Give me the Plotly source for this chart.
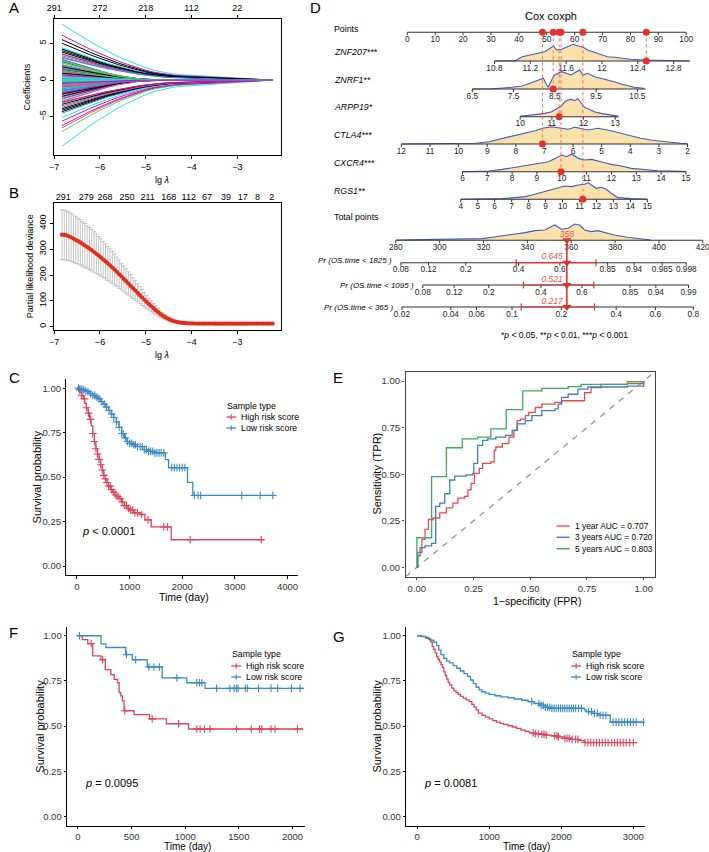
import numpy as np
import plotly.graph_objects as go

W, H = 709, 852
FONT = "Liberation Sans, Arial, Helvetica, sans-serif"

# ===================== DATA =====================
# ---- Panel A : LASSO coefficient paths ----
A_LOG_LAMBDA = [-6.83, -6.6, -6.4, -6.2, -6.0, -5.8, -5.6, -5.4, -5.2, -5.0, -4.8,
                -4.6, -4.4, -4.2, -4.0, -3.7, -3.4, -3.1, -2.8, -2.5, -2.23]
A_SHRINK_WIDE = [1.0, 0.88, 0.78, 0.68, 0.59, 0.5, 0.42, 0.35, 0.28, 0.22, 0.17,
                 0.135, 0.11, 0.095, 0.085, 0.07, 0.055, 0.04, 0.025, 0.01, 0.0]
A_SHRINK_NARROW = [1.0, 0.85, 0.7, 0.56, 0.43, 0.32, 0.22, 0.14, 0.08, 0.04, 0.015,
                   0.005, 0.0, 0.0, 0.0, 0.0, 0.0, 0.0, 0.0, 0.0, 0.0]
A_COEF_START = [5.5, -6.5, -7.0, 4.3, 7.6, 6.1, -4.3, 3.3, 2.0, -4.5, -9.0, -5.6,
                4.2, -3.1, 3.6, 1.9, -5.1, 2.8, -3.9, 1.5, -2.6, 3.0, 4.4, -1.8,
                2.5, -2.0, 1.1, -3.5, 2.4, -0.9, -4.1, 0.8, -1.4, 2.7, -2.8, 1.3,
                3.8, -1.1, 0.5, -2.3, 1.7, -0.4, -3.3, 2.1, -0.7, 0.9, -1.6, 3.5,
                1.4, -3.7, 0.3, -1.2, 1.0, -2.5, 4.0, -0.3, 2.3, -0.6, 0.6, -6.2,
                -1.9, 1.2, -0.2, 1.6, -1.0, 0.4, -2.2, 0.2, -0.5, 3.1, -1.3, 0.7,
                1.8, -0.8, 0.15, -1.5, 0.35, -3.0, -0.1, 0.85, -0.05, 0.1, -0.15, 0.55,
                5.0, -2.9, 2.6, -0.35, 0.05, -1.7, 0.95, -0.95, 1.35, -1.35, 0.45, -0.45]
A_TICKS = [-7, -6, -5, -4, -3]
A_TOP_LABELS = ["291", "272", "218", "112", "22"]
R_PALETTE = ["#000000", "#DF536B", "#61D04F", "#2297E6", "#28E2E5", "#CD0BBC"]

# ---- Panel B : cross-validation deviance ----
B_LOG_LAMBDA = list(np.round(np.linspace(-6.83, -2.23, 93), 3))
B_DEVIANCE = [356, 355, 353, 350, 346, 341, 336, 331, 326, 320, 314, 308, 302, 296, 289,
              282, 275, 268, 260, 253, 245, 237, 229, 221, 212, 203, 194, 185, 176, 167,
              158, 149, 140, 131, 122, 113, 104, 96, 87, 79, 71, 63, 56, 49, 43,
              37, 32, 28, 24, 21, 19, 17, 15.5, 14.5, 13.8, 13.2, 12.8,
              12.5, 12.3, 12.2, 12.1, 12.0, 12.0, 11.9, 11.9, 11.9, 11.8, 11.8, 11.8,
              11.8, 11.8, 11.8, 11.8, 11.8, 11.8, 11.8, 11.8, 11.8, 11.8, 11.8, 11.8,
              11.8, 11.9, 11.9, 11.9, 11.9, 11.9, 11.9, 12.0, 12.0, 12.0, 12.0, 12.0]
B_SE = [96, 96, 95, 94, 93, 92, 91, 89, 88, 86, 85, 83, 82, 80, 78, 76, 74, 72, 70, 68,
        66, 64, 62, 60, 57, 55, 52, 50, 48, 45, 43, 40, 38, 35, 33, 31, 28, 26, 23, 21,
        19, 17, 15, 13, 12, 10, 9, 8, 7, 6, 5, 5, 4, 4, 3, 3, 3,
        3, 2.5, 2.5, 2.5, 2.5, 2.5, 2, 2, 2, 2, 2, 2, 2, 2, 2, 2, 2, 2, 2, 2,
        2, 2, 2, 2, 2, 2, 2, 2, 2, 2, 2, 2, 2, 2, 2, 2]
B_TICKS = [-7, -6, -5, -4, -3]
B_TOP_POS = [-6.80, -6.30, -5.89, -5.41, -4.96, -4.50, -4.06, -3.66, -3.25, -2.88, -2.56, -2.25]
B_TOP_LABELS = ["291", "279", "268", "250", "211", "168", "112", "67", "39", "17", "8", "2"]

# ---- Panel D : nomogram (anchor = value_a, points_a, value_b, points_b) ----
POINTS_TICKS = [0, 10, 20, 30, 40, 50, 60, 70, 80, 90, 100]
POINTS_ANCHOR = (0, 0.0, 100, 100.0)

NOMO_LABELS = ["ZNF207***", "ZNRF1**", "ARPP19*", "CTLA4***", "CXCR4***", "RGS1**"]

ZNF207_TICKS = [10.8, 11.2, 11.6, 12.0, 12.4, 12.8]
ZNF207_TICKLABELS = ["10.8", "11.2", "11.6", "12", "12.4", "12.8"]
ZNF207_LINE = [10.8, 12.98]
ZNF207_ANCHOR = (10.8, 31.24, 12.8, 95.48)
ZNF207_VALUE = 12.495
ZNF207_DENS_V = [10.8, 11.03, 11.11, 11.2, 11.29, 11.36, 11.46, 11.49, 11.55, 11.62, 11.68, 11.73,
                 11.79, 11.84, 11.92, 11.99, 12.06, 12.14, 12.21, 12.32, 12.47, 12.69, 12.98]
ZNF207_DENS_H = [0, 0.3, 4.3, 6, 7.7, 9.3, 15, 11, 11.7, 14.3, 16.7, 15.3, 13.7, 11, 8.3, 6,
                 4.3, 3.7, 2.7, 1.7, 1, 0.3, 0]

ZNRF1_TICKS = [6.5, 7.5, 8.5, 9.5, 10.5]
ZNRF1_TICKLABELS = ["6.5", "7.5", "8.5", "9.5", "10.5"]
ZNRF1_LINE = [6.5, 10.7]
ZNRF1_ANCHOR = (6.5, 23.32, 10.5, 82.49)
ZNRF1_VALUE = 8.46
ZNRF1_DENS_V = [6.5, 6.98, 7.46, 7.70, 7.90, 8.10, 8.22, 8.30, 8.34, 8.42, 8.50, 8.66, 8.78, 8.90,
                8.98, 9.10, 9.18, 9.30, 9.46, 9.62, 9.78, 9.94, 10.10, 10.26, 10.42, 10.66]
ZNRF1_DENS_H = [0, 0.3, 1.7, 3, 5.7, 9, 10.7, 4, 1.7, 9, 14, 17.3, 15.7, 14, 16.3, 19, 14, 15.7,
                12.3, 10.7, 9, 7.3, 5, 3, 1.7, 0.7]

ARPP19_TICKS = [10, 11, 12, 13]
ARPP19_TICKLABELS = ["10", "11", "12", "13"]
ARPP19_LINE = [10, 13.1]
ARPP19_ANCHOR = (10, 40.46, 13, 74.54)
ARPP19_VALUE = 11.23
ARPP19_DENS_V = [10.0, 10.47, 10.78, 10.99, 11.15, 11.30, 11.41, 11.51, 11.62, 11.72, 11.82,
                 11.93, 12.03, 12.19, 12.34, 12.55, 12.87, 13.1]
ARPP19_DENS_H = [0.3, 1.7, 3.3, 5, 8.3, 10.7, 15, 16.7, 17.3, 16, 18, 13.3, 9.3, 7.3, 5, 3.3, 1.7, 0.3]

CTLA4_TICKS = [12, 11, 10, 9, 8, 7, 6, 5, 4, 3, 2]
CTLA4_TICKLABELS = ["12", "11", "10", "9", "8", "7", "6", "5", "4", "3", "2"]
CTLA4_LINE = [12, 2]
CTLA4_ANCHOR = (12, -2.13, 2, 100.45)
CTLA4_VALUE = 7.07
CTLA4_DENS_V = [12.0, 10.33, 9.40, 8.94, 8.60, 8.25, 7.90, 7.67, 7.33, 7.07, 6.75, 6.40, 6.17, 5.94,
                5.71, 5.48, 5.13, 4.91, 4.67, 4.33, 3.98, 3.64, 3.29, 2.83, 2.25, 2.0]
CTLA4_DENS_H = [0, 0.3, 0.7, 2.3, 4.7, 6.7, 9, 11.3, 13.3, 15.7, 17.3, 15.7, 14.7, 16.7, 15.3,
                14, 15.7, 14.7, 13.3, 10.7, 8, 5.7, 4, 2.3, 0.7, 0.2]

CXCR4_TICKS = [6, 7, 8, 9, 10, 11, 12, 13, 14, 15]
CXCR4_TICKLABELS = ["6", "7", "8", "9", "10", "11", "12", "13", "14", "15"]
CXCR4_LINE = [6, 15]
CXCR4_ANCHOR = (6, 19.77, 15, 99.88)
CXCR4_VALUE = 9.97
CXCR4_DENS_V = [6.0, 7.07, 7.60, 8.00, 8.27, 8.67, 9.07, 9.47, 9.73, 10.00, 10.20, 10.40, 10.67,
                10.93, 11.20, 11.47, 11.73, 12.00, 12.40, 12.80, 13.33, 13.87, 14.80, 15.0]
CXCR4_DENS_H = [0, 0.7, 2.3, 4.3, 5, 6.7, 8.3, 10, 13.3, 16.7, 15, 17.7, 13.3, 11.7, 12.3, 11, 9,
                7.3, 5.7, 3.3, 2.3, 1, 0.3, 0]

RGS1_TICKS = [4, 5, 6, 7, 8, 9, 10, 11, 12, 13, 14, 15]
RGS1_TICKLABELS = ["4", "5", "6", "7", "8", "9", "10", "11", "12", "13", "14", "15"]
RGS1_LINE = [4, 15]
RGS1_ANCHOR = (4, 19.17, 15, 86.04)
RGS1_VALUE = 11.2
RGS1_DENS_V = [4.0, 6.44, 7.22, 7.80, 8.19, 8.58, 8.97, 9.36, 9.75, 10.14, 10.53, 10.92, 11.31,
               11.51, 11.70, 11.99, 12.29, 12.58, 12.87, 13.26, 14.04, 14.82, 15.0]
RGS1_DENS_H = [0, 0.7, 1.7, 2.7, 4.3, 6, 7.7, 9.3, 11, 13.3, 12.7, 14.3, 15, 16.7, 14.3, 11, 12,
               10, 6, 1.7, 0.7, 0.3, 0]

TOTAL_TICKS = [280, 300, 320, 340, 360, 380, 400, 420]
TOTAL_TICKLABELS = ["280", "300", "320", "340", "360", "380", "400", "420"]
TOTAL_ANCHOR = (280, -4.12, 420, 105.92)
TOTAL_VALUE = 358
TOTAL_DENS_V = [280.3, 296.8, 311.9, 319.4, 323.9, 328.4, 334.4, 339.0, 343.5, 348.0, 351.0, 352.5,
                355.5, 358.6, 361.5, 363.8, 366.1, 369.1, 372.1, 375.1, 379.6, 385.6, 391.7, 396.2]
TOTAL_DENS_H = [0.3, 1, 1.3, 1.7, 3, 4.3, 6.3, 7.7, 9.7, 10.3, 13.7, 15.3, 11, 12, 16.3, 15.3,
                10.3, 8.7, 9.7, 7.7, 5.3, 3, 1.7, 0.3]

PR_LABELS = ["Pr (OS.time < 1825 )", "Pr (OS.time < 1095 )", "Pr (OS.time < 365 )"]
PR1825_TICKLABELS = ["0.08", "0.12", "0.2", "0.4", "0.6", "0.85", "0.94", "0.985", "0.998"]
PR1825_TICKPOS = [282.3, 294.9, 311.9, 336.0, 354.8, 376.6, 388.7, 401.5, 412.5]
PR1095_TICKLABELS = ["0.08", "0.12", "0.2", "0.4", "0.6", "0.85", "0.94", "0.99"]
PR1095_TICKPOS = [292.3, 306.6, 322.4, 346.2, 364.9, 386.8, 398.6, 413.5]
PR365_TICKLABELS = ["0.02", "0.04", "0.06", "0.1", "0.2", "0.4", "0.6", "0.8"]
PR365_TICKPOS = [282.8, 305.1, 316.8, 333.0, 355.5, 380.5, 398.4, 415.7]
PR_VALUES = ["0.645", "0.521", "0.217"]
PR_CI_LO = [334.9, 338.2, 337.2]
PR_CI_HI = [371.3, 370.3, 370.6]

# ---- Panel C : KM training set ----
C_HIGH_T = [0, 30, 60, 90, 120, 150, 180, 210, 240, 270, 300, 330, 360, 390, 420, 450, 480, 510,
            540, 570, 600, 640, 680, 720, 760, 800, 850, 900, 950, 1000, 1080, 1200, 1290, 1410,
            1790, 3550]
C_HIGH_S = [1.0, 0.99, 0.975, 0.96, 0.94, 0.915, 0.89, 0.86, 0.825, 0.79, 0.745, 0.70, 0.66, 0.63,
            0.60, 0.57, 0.54, 0.51, 0.49, 0.47, 0.45, 0.43, 0.415, 0.40, 0.39, 0.38, 0.36, 0.34,
            0.325, 0.315, 0.30, 0.29, 0.26, 0.22, 0.148, 0.148]
C_HIGH_CENS = [50, 90, 140, 180, 220, 260, 300, 330, 360, 390, 420, 450, 480, 510, 540, 570, 600,
               630, 660, 700, 740, 780, 820, 860, 900, 940, 980, 1020, 1060, 1100, 1150, 1230, 1350,
               1650, 1720, 2150, 3500]
C_LOW_T = [0, 50, 100, 150, 200, 250, 300, 350, 400, 450, 500, 550, 600, 650, 700, 750, 800, 850,
           900, 950, 1000, 1050, 1150, 1250, 1350, 1450, 1680, 1740, 2100, 2200, 3750]
C_LOW_S = [1.0, 0.995, 0.99, 0.985, 0.98, 0.97, 0.96, 0.95, 0.94, 0.925, 0.91, 0.895, 0.875, 0.855,
           0.835, 0.81, 0.78, 0.745, 0.72, 0.70, 0.69, 0.682, 0.672, 0.655, 0.645, 0.637, 0.598,
           0.553, 0.471, 0.397, 0.397]
C_LOW_CENS = [30, 60, 95, 130, 170, 210, 260, 300, 340, 380, 420, 470, 520, 560, 610, 660, 700, 750,
              800, 850, 880, 920, 960, 1000, 1040, 1080, 1110, 1150, 1200, 1240, 1280, 1320, 1360,
              1400, 1440, 1480, 1520, 1560, 1600, 1650, 1800, 1850, 1900, 1950, 2000, 2050, 2230,
              2300, 2350, 3130, 3480, 3720]
C_P_TEXT = "<i>p</i> < 0.0001"

# ---- Panel E : time-dependent ROC ----
ROC_1Y_FPR = [0, 0.004, 0.022, 0.036, 0.051, 0.072, 0.101, 0.13, 0.159, 0.181, 0.21, 0.225, 0.239,
              0.254, 0.275, 0.29, 0.326, 0.341, 0.348, 0.377, 0.406, 0.428, 0.442, 0.457, 0.478,
              0.493, 0.522, 0.551, 0.609, 0.638, 0.739, 0.768, 0.812, 0.928, 1.0]
ROC_1Y_TPR = [0, 0.08, 0.15, 0.204, 0.257, 0.265, 0.292, 0.319, 0.345, 0.372, 0.381, 0.416, 0.451,
              0.504, 0.531, 0.558, 0.566, 0.628, 0.646, 0.664, 0.699, 0.735, 0.788, 0.796, 0.814,
              0.832, 0.858, 0.876, 0.885, 0.894, 0.938, 0.965, 0.982, 0.986, 1.0]
ROC_3Y_FPR = [0, 0.004, 0.014, 0.036, 0.065, 0.083, 0.101, 0.123, 0.145, 0.167, 0.217, 0.246, 0.251,
              0.268, 0.29, 0.312, 0.348, 0.391, 0.42, 0.442, 0.478, 0.507, 0.551, 0.609, 0.623,
              0.638, 0.667, 0.71, 0.754, 0.928, 1.0]
ROC_3Y_TPR = [0, 0.062, 0.106, 0.115, 0.129, 0.327, 0.345, 0.395, 0.469, 0.49, 0.496, 0.504, 0.558,
              0.655, 0.681, 0.69, 0.699, 0.708, 0.735, 0.77, 0.788, 0.814, 0.841, 0.85, 0.876,
              0.912, 0.929, 0.956, 0.968, 0.973, 1.0]
ROC_5Y_FPR = [0, 0, 0.065, 0.13, 0.2, 0.268, 0.326, 0.394, 0.467, 0.551, 0.667, 0.725, 0.928, 1.0]
ROC_5Y_TPR = [0, 0.159, 0.487, 0.642, 0.69, 0.699, 0.743, 0.846, 0.947, 0.961, 0.97, 0.982, 0.996, 1.0]
ROC_NAMES = ["1 year AUC = 0.707", "3 years AUC = 0.720", "5 years AUC = 0.803"]

# ---- Panel F : KM validation 1 ----
F_HIGH_T = [0, 40, 92, 138, 215, 255, 307, 338, 369, 384, 400, 415, 430, 523, 668, 825, 1031, 2100]
F_HIGH_S = [1.0, 0.978, 0.956, 0.889, 0.867, 0.813, 0.785, 0.758, 0.74, 0.685, 0.667, 0.64, 0.585,
            0.564, 0.54, 0.513, 0.484, 0.484]
F_HIGH_CENS = [123, 231, 437, 692, 938, 1108, 1139, 1179, 1231, 1477, 1616, 1693, 1714, 1800, 1837, 2046]
F_LOW_T = [0, 215, 261, 446, 507, 646, 785, 1015, 1185, 2100]
F_LOW_S = [1.0, 0.955, 0.935, 0.895, 0.867, 0.827, 0.767, 0.74, 0.709, 0.709]
F_LOW_CENS = [15, 452, 538, 662, 708, 760, 923, 1108, 1133, 1154, 1293, 1416, 1456, 1477, 1493, 1560,
              1579, 1684, 1800, 1862, 1991, 2071]
F_P_TEXT = "<i>p</i> = 0.0095"

# ---- Panel G : KM validation 2 ----
G_HIGH_T = [0, 60, 120, 160, 190, 210, 230, 250, 270, 290, 310, 330, 350, 370, 390, 410, 430, 450,
            480, 510, 540, 570, 600, 640, 680, 720, 760, 790, 820, 850, 900, 950, 1000, 1050, 1100,
            1150, 1200, 1260, 1320, 1380, 1440, 1500, 1560, 1620, 1700, 1780, 1860, 1950, 2050,
            2150, 2240, 2320, 3045]
G_HIGH_S = [1.0, 0.997, 0.99, 0.98, 0.965, 0.94, 0.925, 0.905, 0.885, 0.87, 0.855, 0.84, 0.825,
            0.8, 0.78, 0.76, 0.742, 0.728, 0.71, 0.695, 0.685, 0.675, 0.665, 0.655, 0.645, 0.635,
            0.62, 0.605, 0.59, 0.572, 0.56, 0.55, 0.54, 0.53, 0.522, 0.515, 0.51, 0.502, 0.495,
            0.487, 0.478, 0.47, 0.463, 0.458, 0.455, 0.45, 0.446, 0.44, 0.432, 0.426, 0.42, 0.409,
            0.409]
G_HIGH_CENS = [1610, 1640, 1680, 1730, 1760, 1790, 1910, 1940, 1960, 2050, 2080, 2110, 2150, 2200,
               2230, 2330, 2370, 2410, 2450, 2490, 2530, 2570, 2610, 2650, 2700, 2740, 2780, 2820,
               2860, 2900, 2950, 3000]
G_LOW_T = [0, 60, 120, 180, 230, 270, 300, 330, 370, 410, 450, 500, 550, 600, 650, 700, 740, 780,
           820, 860, 900, 950, 1000, 1080, 1160, 1260, 1350, 1450, 1540, 1620, 1700, 1780, 1870,
           2320, 2350, 2430, 2510, 2680, 3146]
G_LOW_S = [1.0, 0.995, 0.985, 0.975, 0.965, 0.945, 0.92, 0.895, 0.875, 0.86, 0.85, 0.835, 0.82,
           0.805, 0.79, 0.775, 0.755, 0.735, 0.715, 0.7, 0.69, 0.683, 0.676, 0.668, 0.662, 0.657,
           0.65, 0.643, 0.635, 0.625, 0.615, 0.604, 0.598, 0.59, 0.58, 0.57, 0.56, 0.522, 0.522]
G_LOW_CENS = [1590, 1690, 1720, 1750, 1780, 1810, 1840, 1870, 1900, 1930, 1960, 1990, 2020, 2050,
              2080, 2110, 2140, 2170, 2200, 2240, 2280, 2380, 2420, 2460, 2500, 2540, 2580, 2620,
              2720, 2760, 2800, 2840, 2880, 2920, 2960, 3000, 3040, 3140]
G_P_TEXT = "<i>p</i> = 0.0081"

KM_NAMES = ["High risk score", "Low risk score"]
SURV_TICKS = [0, 0.25, 0.5, 0.75, 1.0]
SURV_TICKTEXT = ["0.00", "0.25", "0.50", "0.75", "1.00"]

# ===================== STYLE =====================
RED_KM = "#E0435A"
BLUE_KM = "#3A8AC6"
ROC_COLS = ["#EC4A4A", "#3E7EC4", "#3FAA5C"]
NOMO_RED = "#E8302A"
DENS_FILL = "#FAE1AA"
DENS_LINE = "#3C5AC8"

fig = go.Figure()
ann, shp = [], []


def dom_x(a, b):
    return [a / W, b / W]


def dom_y(top, bot):
    return [1 - bot / H, 1 - top / H]


def T(x, y, s, size=9, color="black", xanchor="center", yanchor="middle", angle=0):
    ann.append(dict(x=x / W, y=1 - y / H, xref="paper", yref="paper", text=s, showarrow=False,
                    xanchor=xanchor, yanchor=yanchor, textangle=angle,
                    font=dict(family=FONT, size=size, color=color)))


def add(**kw):
    kw.setdefault("showlegend", False)
    kw.setdefault("hoverinfo", "skip")
    fig.add_trace(go.Scatter(**kw))


# ===================== PANEL A =====================
for i, c in enumerate(A_COEF_START):
    prof = A_SHRINK_WIDE if abs(c) >= 3 else A_SHRINK_NARROW
    add(x=A_LOG_LAMBDA, y=[c * s for s in prof], mode="lines",
        line=dict(color=R_PALETTE[i % 6], width=1), xaxis="x", yaxis="y")
add(x=[-5], y=[0], mode="markers", marker=dict(opacity=0), xaxis="x2", yaxis="y")

# ===================== PANEL B =====================
add(x=B_LOG_LAMBDA, y=B_DEVIANCE, mode="markers",
    marker=dict(color="#E62A1E", size=4.2),
    error_y=dict(type="data", array=B_SE, visible=True, color="#B5B5B5", thickness=0.8, width=2),
    xaxis="x3", yaxis="y3")
add(x=[-5], y=[0], mode="markers", marker=dict(opacity=0), xaxis="x4", yaxis="y3")

# ===================== PANEL D (nomogram) =====================
POINTS_ROW_Y = 32.3
NOMO_ROW_Y = [61, 89, 116.7, 144, 171.7, 199.3]
NOMO_LABEL_Y = [51.7, 80, 107.3, 135, 163.3, 190.7]
TOTAL_ROW_Y = 240.3
PR_ROW_Y = [262.7, 285, 307]


def lin(v, anc):
    va, pa, vb, pb = anc
    return pa + (v - va) * (pb - pa) / (vb - va)


def dtr(**kw):
    kw.setdefault("xaxis", "x5")
    kw.setdefault("yaxis", "y5")
    add(**kw)


def nomo_row(line_vals, ticks, ticklabels, anc, y, dens_v=None, dens_h=None):
    if dens_v is not None:
        xs = [lin(v, anc) for v in dens_v]
        ys = [y - h for h in dens_h]
        dtr(x=xs + xs[::-1], y=ys + [y] * len(xs), mode="lines", fill="toself",
            fillcolor=DENS_FILL, line=dict(width=0))
        dtr(x=xs, y=ys, mode="lines", line=dict(color=DENS_LINE, width=1.1))
    dtr(x=[lin(line_vals[0], anc), lin(line_vals[1], anc)], y=[y, y], mode="lines",
        line=dict(color="#333333", width=1.1))
    tx, ty = [], []
    for t in ticks:
        tx += [lin(t, anc), lin(t, anc), None]
        ty += [y, y + 3, None]
    dtr(x=tx, y=ty, mode="lines", line=dict(color="#333333", width=1))
    dtr(x=[lin(t, anc) for t in ticks], y=[y + 7.5] * len(ticks), mode="text", text=ticklabels,
        textfont=dict(family=FONT, size=8.3, color="#222222"), textposition="middle center",
        cliponaxis=False)


nomo_row([0, 100], POINTS_TICKS, [str(t) for t in POINTS_TICKS], POINTS_ANCHOR, POINTS_ROW_Y)
VAR_DEFS = [
    (ZNF207_LINE, ZNF207_TICKS, ZNF207_TICKLABELS, ZNF207_ANCHOR, ZNF207_DENS_V, ZNF207_DENS_H, ZNF207_VALUE),
    (ZNRF1_LINE, ZNRF1_TICKS, ZNRF1_TICKLABELS, ZNRF1_ANCHOR, ZNRF1_DENS_V, ZNRF1_DENS_H, ZNRF1_VALUE),
    (ARPP19_LINE, ARPP19_TICKS, ARPP19_TICKLABELS, ARPP19_ANCHOR, ARPP19_DENS_V, ARPP19_DENS_H, ARPP19_VALUE),
    (CTLA4_LINE, CTLA4_TICKS, CTLA4_TICKLABELS, CTLA4_ANCHOR, CTLA4_DENS_V, CTLA4_DENS_H, CTLA4_VALUE),
    (CXCR4_LINE, CXCR4_TICKS, CXCR4_TICKLABELS, CXCR4_ANCHOR, CXCR4_DENS_V, CXCR4_DENS_H, CXCR4_VALUE),
    (RGS1_LINE, RGS1_TICKS, RGS1_TICKLABELS, RGS1_ANCHOR, RGS1_DENS_V, RGS1_DENS_H, RGS1_VALUE),
]
for (ln, tk, tl, anc, dv, dh, val), y in zip(VAR_DEFS, NOMO_ROW_Y):
    nomo_row(ln, tk, tl, anc, y, dv, dh)
nomo_row([280, 420], TOTAL_TICKS, TOTAL_TICKLABELS, TOTAL_ANCHOR, TOTAL_ROW_Y, TOTAL_DENS_V, TOTAL_DENS_H)

PR_DEFS = [(PR1825_TICKPOS, PR1825_TICKLABELS), (PR1095_TICKPOS, PR1095_TICKLABELS),
           (PR365_TICKPOS, PR365_TICKLABELS)]
for (pos, labs), y in zip(PR_DEFS, PR_ROW_Y):
    nomo_row([pos[0], pos[-1]], pos, labs, TOTAL_ANCHOR, y)

# red marks
var_pts = [lin(d[6], d[3]) for d in VAR_DEFS]
for p, y in zip(var_pts, NOMO_ROW_Y):
    dtr(x=[p, p], y=[POINTS_ROW_Y, y], mode="lines", line=dict(color="#F06A6A", width=1, dash="dot"))
tot_x = lin(TOTAL_VALUE, TOTAL_ANCHOR)
dtr(x=[tot_x, tot_x], y=[TOTAL_ROW_Y, PR_ROW_Y[-1]], mode="lines", line=dict(color=NOMO_RED, width=1.6))
for lo, hi, y in zip(PR_CI_LO, PR_CI_HI, PR_ROW_Y):
    a, b = lin(lo, TOTAL_ANCHOR), lin(hi, TOTAL_ANCHOR)
    dtr(x=[a, b, None, a, a, None, b, b], y=[y, y, None, y - 3.5, y + 3.5, None, y - 3.5, y + 3.5],
        mode="lines", line=dict(color=NOMO_RED, width=1.2))
dtr(x=var_pts, y=[POINTS_ROW_Y] * len(var_pts), mode="markers",
    marker=dict(color=NOMO_RED, size=7, line=dict(width=0)))
dtr(x=var_pts, y=NOMO_ROW_Y, mode="markers", marker=dict(color=NOMO_RED, size=7, line=dict(width=0)))
dtr(x=[tot_x] * 4, y=[TOTAL_ROW_Y] + PR_ROW_Y, mode="markers",
    marker=dict(color=NOMO_RED, size=8, symbol="triangle-down", line=dict(width=0)))
dtr(x=[tot_x], y=[TOTAL_ROW_Y - 5], mode="text", text=["<i>%d</i>" % TOTAL_VALUE],
    textfont=dict(family=FONT, size=8.5, color="#F0504A"), cliponaxis=False)
lab_x = lin(351.3, TOTAL_ANCHOR)
dtr(x=[lab_x] * 3, y=[y - 5.6 for y in PR_ROW_Y], mode="text",
    text=["<i>%s</i>" % v for v in PR_VALUES],
    textfont=dict(family=FONT, size=8.5, color="#F0504A"), cliponaxis=False)

# nomogram text
T(549, 16, "Cox coxph", size=11)
T(328, 29.3, "Points", size=8.8, xanchor="left")
for lab, y in zip(NOMO_LABELS, NOMO_LABEL_Y):
    T(328, y, "<i>%s</i>" % lab, size=8.8, xanchor="left")
T(328, 216.7, "Total points", size=8.8, xanchor="left")
for lab, (pos, _), y in zip(PR_LABELS, PR_DEFS, [260, 285, 307.3]):
    ann.append(dict(x=lin(pos[0], TOTAL_ANCHOR), y=y, xref="x5", yref="y5", text="<i>%s</i>" % lab,
                    showarrow=False, xanchor="right", xshift=-7,
                    font=dict(family=FONT, size=8, color="black")))
T(563, 335, "*<i>p</i> < 0.05, **<i>p</i> < 0.01, ***<i>p</i> < 0.001", size=8.5)

# ===================== KM PANELS =====================


def km(xa, ya, t, s, cens, col):
    add(x=t, y=s, mode="lines", line=dict(color=col, width=1.3, shape="hv"), xaxis=xa, yaxis=ya)
    cy = [s[int(np.searchsorted(t, c, side="right")) - 1] for c in cens]
    add(x=cens, y=cy, mode="markers", xaxis=xa, yaxis=ya,
        marker=dict(symbol="cross-thin", size=5.5, color=col, line=dict(color=col, width=1.1)))


def km_legend(x0, y_title, y1, y2):
    T(x0, y_title, "Sample type", size=8.8, xanchor="left")
    for yy, col, name in [(y1, RED_KM, KM_NAMES[0]), (y2, BLUE_KM, KM_NAMES[1])]:
        shp.append(dict(type="line", xref="paper", yref="paper", x0=(x0 + 1.5) / W, x1=(x0 + 11.5) / W,
                        y0=1 - yy / H, y1=1 - yy / H, line=dict(color=col, width=1.3)))
        shp.append(dict(type="line", xref="paper", yref="paper", x0=(x0 + 6.5) / W, x1=(x0 + 6.5) / W,
                        y0=1 - (yy - 2.5) / H, y1=1 - (yy + 2.5) / H, line=dict(color=col, width=1.2)))
        T(x0 + 14, yy, name, size=8.8, xanchor="left")


km("x6", "y6", C_HIGH_T, C_HIGH_S, C_HIGH_CENS, RED_KM)
km("x6", "y6", C_LOW_T, C_LOW_S, C_LOW_CENS, BLUE_KM)
km("x8", "y8", F_HIGH_T, F_HIGH_S, F_HIGH_CENS, RED_KM)
km("x8", "y8", F_LOW_T, F_LOW_S, F_LOW_CENS, BLUE_KM)
km("x9", "y9", G_HIGH_T, G_HIGH_S, G_HIGH_CENS, RED_KM)
km("x9", "y9", G_LOW_T, G_LOW_S, G_LOW_CENS, BLUE_KM)

km_legend(220, 405.7, 417, 428)
km_legend(225, 654, 666, 677)
km_legend(568.3, 654, 666, 677)
T(74, 531, C_P_TEXT, size=11, xanchor="left")
T(76.7, 782.7, F_P_TEXT, size=11, xanchor="left")
T(419, 782.7, G_P_TEXT, size=11, xanchor="left")

# ===================== PANEL E (ROC) =====================
add(x=[-0.05, 1.05], y=[-0.05, 1.05], mode="lines", line=dict(color="#9A9A9A", width=1.4, dash="6px,6px"),
    xaxis="x7", yaxis="y7")
for fpr, tpr, col in [(ROC_1Y_FPR, ROC_1Y_TPR, ROC_COLS[0]), (ROC_3Y_FPR, ROC_3Y_TPR, ROC_COLS[1]),
                      (ROC_5Y_FPR, ROC_5Y_TPR, ROC_COLS[2])]:
    add(x=fpr, y=tpr, mode="lines", line=dict(color=col, width=1.3, shape="hv"), xaxis="x7", yaxis="y7")
for name, col, yy in zip(ROC_NAMES, ROC_COLS, [526, 537.3, 548.7]):
    shp.append(dict(type="line", xref="paper", yref="paper", x0=555 / W, x1=568.3 / W,
                    y0=1 - yy / H, y1=1 - yy / H, line=dict(color=col, width=1.4)))
    T(571.3, yy, name, size=8.4, xanchor="left")

# ===================== AXIS TITLES / LETTERS =====================
T(20.7, 87, "Coefficients", size=9, angle=-90)
T(157, 180, "lg <i>λ</i>", size=9)
T(23, 266.5, "Partial likelihood deviance", size=9, angle=-90)
T(157, 355, "lg <i>λ</i>", size=9)
T(30.7, 477, "Survival probability", size=11, angle=-90)
T(179, 597, "Time (day)", size=10.5)
T(373.3, 474, "Sensitivity (TPR)", size=11, angle=-90)
T(535.7, 600.5, "1−specificity (FPR)", size=10.5)
T(33, 726, "Survival probability", size=11, angle=-90)
T(182.7, 846.5, "Time (day)", size=10)
T(373.3, 726, "Survival probability", size=11, angle=-90)
T(525, 846.5, "Time (day)", size=10)
for letter, x, y in [("A", 0, 7.5), ("B", 0, 192.5), ("C", 0, 377.5), ("D", 304, 7.5),
                     ("E", 327, 377.5), ("F", 0, 632), ("G", 327, 636)]:
    T(x, y, letter, size=15, xanchor="left")

# ===================== LAYOUT =====================
rfont = dict(family=FONT, size=9, color="black")
r_ax = dict(showline=True, mirror=True, linecolor="black", linewidth=1, ticks="outside", ticklen=3,
            tickcolor="black", tickwidth=1, showgrid=False, zeroline=False, tickfont=rfont)
gfont = dict(family=FONT, size=9.5, color="#333333")
g_ax = dict(showline=True, linecolor="black", linewidth=1, ticks="outside", ticklen=2.5,
            tickcolor="black", tickwidth=1, showgrid=False, zeroline=False, tickfont=gfont)
e_ax = dict(showline=True, mirror=True, linecolor="#444444", linewidth=1.3, ticks="outside", ticklen=2.5,
            tickcolor="#444444", tickwidth=1, showgrid=False, zeroline=False, tickfont=gfont)
A_RANGE = [-7.015, -2.04]

fig.update_layout(
    width=W, height=H, margin=dict(l=0, r=0, t=0, b=0),
    paper_bgcolor="white", plot_bgcolor="rgba(0,0,0,0)", showlegend=False, hovermode=False,
    font=dict(family=FONT),
    xaxis=dict(domain=dom_x(47, 277), range=A_RANGE, anchor="y", tickvals=A_TICKS, **r_ax),
    yaxis=dict(domain=dom_y(19, 155), range=[-10.2, 8.31], anchor="x", tickvals=[-5, 0, 5],
               tickangle=-90, **r_ax),
    xaxis2=dict(overlaying="x", side="top", anchor="y", range=A_RANGE, tickvals=A_TICKS,
                ticktext=A_TOP_LABELS, ticks="outside", ticklen=3, tickcolor="black",
                showline=False, showgrid=False, zeroline=False, tickfont=rfont),
    xaxis3=dict(domain=dom_x(47, 277), range=A_RANGE, anchor="y3", tickvals=B_TICKS, **r_ax),
    yaxis3=dict(domain=dom_y(203, 330), range=[-12.8, 478.6], anchor="x3",
                tickvals=[0, 100, 200, 300, 400], tickangle=-90, **r_ax),
    xaxis4=dict(overlaying="x3", side="top", anchor="y3", range=A_RANGE, tickvals=B_TOP_POS,
                ticktext=B_TOP_LABELS, ticks="", showline=False, showgrid=False, zeroline=False,
                tickfont=rfont),
    xaxis5=dict(domain=dom_x(380, 709), range=[-8.625, 108.15], anchor="y5", visible=False),
    yaxis5=dict(domain=dom_y(0, 330), range=[330, 0], anchor="x5", visible=False),
    xaxis6=dict(domain=dom_x(60, 294), range=[-200, 4200], anchor="y6",
                tickvals=[0, 1000, 2000, 3000, 4000], **g_ax),
    yaxis6=dict(domain=dom_y(379.3, 575), range=[-0.05, 1.05], anchor="x6",
                tickvals=SURV_TICKS, ticktext=SURV_TICKTEXT, **g_ax),
    xaxis7=dict(domain=dom_x(402.5, 654.5), range=[-0.05, 1.05], anchor="y7",
                tickvals=SURV_TICKS, ticktext=SURV_TICKTEXT, **e_ax),
    yaxis7=dict(domain=dom_y(371.7, 576.7), range=[-0.05, 1.05], anchor="x7",
                tickvals=SURV_TICKS, ticktext=SURV_TICKTEXT, **e_ax),
    xaxis8=dict(domain=dom_x(60.7, 301), range=[-101, 2117], anchor="y8",
                tickvals=[0, 500, 1000, 1500, 2000], **g_ax),
    yaxis8=dict(domain=dom_y(626.7, 825.5), range=[-0.05, 1.05], anchor="x8",
                tickvals=SURV_TICKS, ticktext=SURV_TICKTEXT, **g_ax),
    xaxis9=dict(domain=dom_x(403.3, 644), range=[-150, 3157], anchor="y9",
                tickvals=[0, 1000, 2000, 3000], **g_ax),
    yaxis9=dict(domain=dom_y(626.7, 825.5), range=[-0.05, 1.05], anchor="x9",
                tickvals=SURV_TICKS, ticktext=SURV_TICKTEXT, **g_ax),
    annotations=ann,
    shapes=shp,
)

fig.write_html("out.html")
